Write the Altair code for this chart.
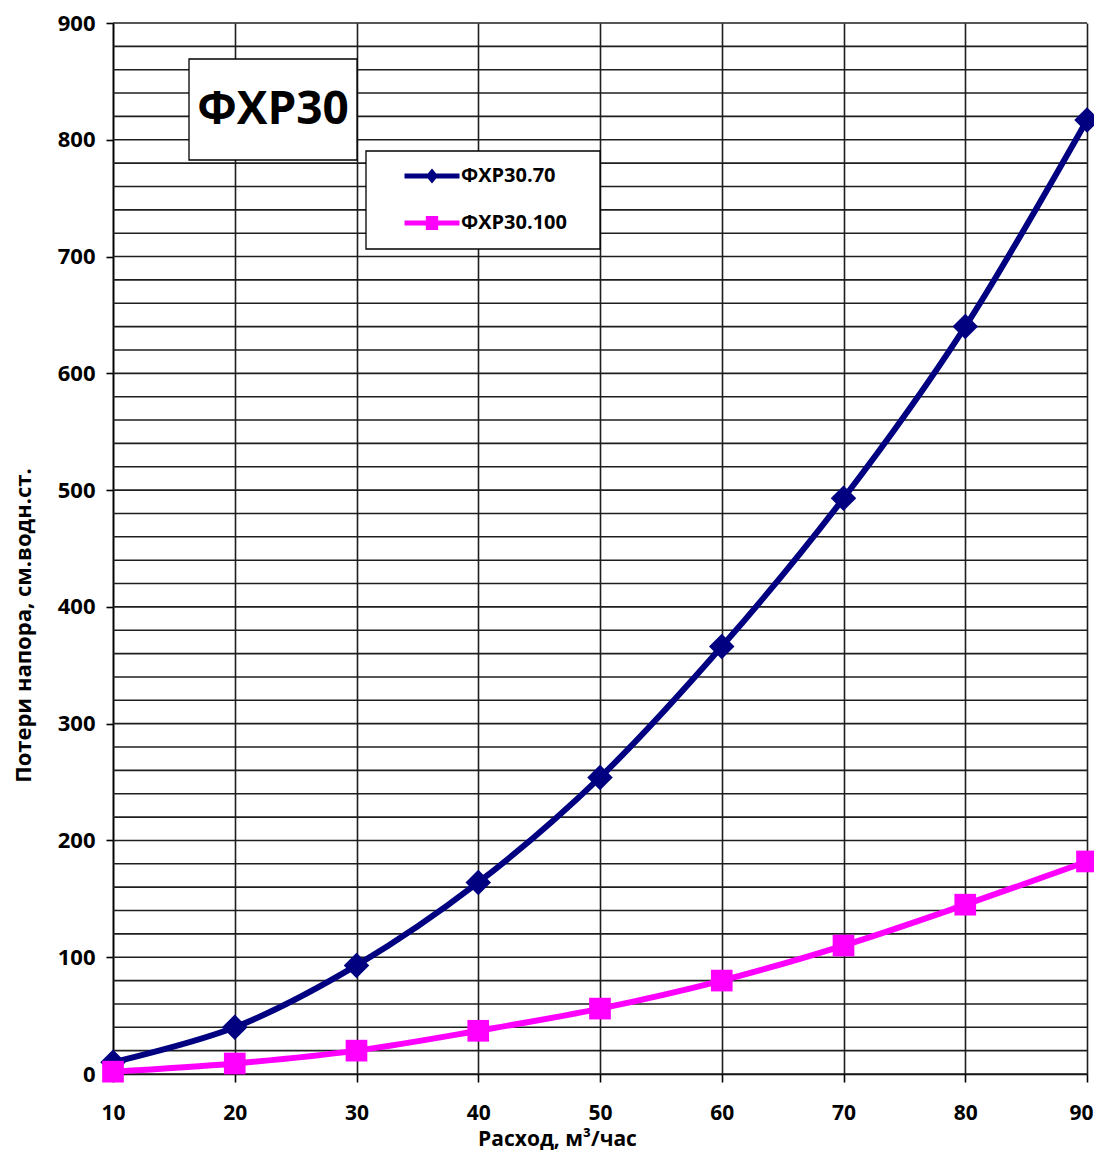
import altair as alt
import pandas as pd

# ---- data ----
flow = [10, 20, 30, 40, 50, 60, 70, 80, 90]
loss_70 = [10, 40, 93, 164, 254, 366, 493, 640, 817]
loss_100 = [2, 9, 20, 37, 56, 80, 110, 145, 182]
series = ["ФХР30.70", "ФХР30.100"]
colors = ["#000080", "#FF00FF"]
shapes = ["diamond", "square"]
marker_sizes = [650, 470]
y_ticks = list(range(0, 901, 100))
y_grid = list(range(0, 901, 20))
x_ticks = flow
chart_title = ["ФХР30"]

df = pd.DataFrame({
    "flow": flow * 2,
    "loss": loss_70 + loss_100,
    "series": [series[0]] * len(flow) + [series[1]] * len(flow),
})
grid_df = pd.DataFrame({"g": y_grid})

FONT = "Open Sans"

diamond_path = ("M-2,-0.18L-0.3,-0.18L0,-0.55L0.3,-0.18L2,-0.18L2,0.18L0.3,0.18"
                "L0,0.55L-0.3,0.18L-2,0.18Z")
square_path = ("M-2,-0.18L-0.45,-0.18L-0.45,-0.51L0.45,-0.51L0.45,-0.18L2,-0.18L2,0.18"
               "L0.45,0.18L0.45,0.51L-0.45,0.51L-0.45,0.18L-2,0.18Z")

y_scale = alt.Scale(domain=[0, 900], nice=False)
x_scale = alt.Scale(domain=[10, 90], nice=False, zero=False)

x_axis = alt.Axis(
    values=x_ticks, title="Расход, м³/час", grid=True,
    gridColor="#1e1e1e", gridWidth=1.6,
    domainColor="#000", domainWidth=1.6,
    tickColor="#000", tickWidth=1.6, tickSize=8,
    labelFont=FONT, labelFontSize=21, labelFontWeight="bold", labelColor="#000",
    labelPadding=20, labelFlush=False, labelOverlap=False,
    labelOffset={"condition": {"test": "datum.value === 90", "value": -6}, "value": 0},
    titleFont=FONT, titleFontSize=21, titleFontWeight="bold", titleColor="#000",
    titleX=444, titleY=65, titleBaseline="middle",
)
y_axis = alt.Axis(
    values=y_ticks, title="Потери напора, см.водн.ст.", grid=False,
    domainColor="#000", domainWidth=1.6,
    tickColor="#000", tickWidth=1.6, tickSize=7,
    labelFont=FONT, labelFontSize=22, labelFontWeight="bold", labelColor="#000",
    labelPadding=11, labelOverlap=False,
    titleFont=FONT, titleFontSize=22, titleFontWeight="bold", titleColor="#000",
    titleX=-90, titleY=602, titleBaseline="middle",
)

hgrid = alt.Chart(grid_df).mark_rule(color="#1e1e1e", strokeWidth=1.6).encode(
    y=alt.Y("g:Q", scale=y_scale, axis=y_axis)
)

line_layers = []
point_layers = []
for s, col, shp, sz in zip(series, colors, shapes, marker_sizes):
    base = alt.Chart(df).transform_filter(alt.datum.series == s)
    line_layers.append(
        base.mark_line(interpolate="catmull-rom", strokeWidth=6, color=col).encode(
            x=alt.X("flow:Q", scale=x_scale, axis=x_axis),
            y=alt.Y("loss:Q", scale=y_scale, axis=y_axis),
        )
    )
    point_layers.append(
        base.mark_point(filled=True, opacity=1, size=sz, shape=shp, color=col).encode(
            x=alt.X("flow:Q", scale=x_scale, axis=x_axis),
            y=alt.Y("loss:Q", scale=y_scale, axis=y_axis),
        )
    )

legend_spec = alt.Legend(
    orient="none", legendX=305, legendY=139, title=None, zindex=5,
    symbolSize=756, symbolStrokeWidth=0, symbolOpacity=1,
    labelFont=FONT, labelFontSize=20, labelFontWeight="bold", labelColor="#000",
    labelOffset=15, rowPadding=23, padding=0,
)
legend_layer = alt.Chart(df).mark_point(filled=True, opacity=0).encode(
    x=alt.X("flow:Q", scale=x_scale, axis=x_axis),
    y=alt.Y("loss:Q", scale=y_scale, axis=y_axis),
    color=alt.Color("series:N", scale=alt.Scale(domain=series, range=colors), legend=legend_spec),
    shape=alt.Shape("series:N", scale=alt.Scale(domain=series, range=[diamond_path, square_path]),
                    legend=legend_spec),
)

box_df = pd.DataFrame({"t": chart_title})
title_box = alt.Chart(box_df).mark_rect(fill="white", stroke="#000", strokeWidth=1.3).encode(
    x=alt.value(76), x2=alt.value(244), y=alt.value(36), y2=alt.value(137)
)
title_text = alt.Chart(box_df).mark_text(
    font=FONT, fontSize=46, fontWeight="bold", color="#000", align="center", baseline="middle"
).encode(x=alt.value(160), y=alt.value(87), text="t:N")
legend_box = alt.Chart(box_df).mark_rect(fill="white", stroke="#000", strokeWidth=1.3).encode(
    x=alt.value(253), x2=alt.value(487), y=alt.value(128), y2=alt.value(226)
)

chart = alt.layer(
    hgrid, title_box, title_text, legend_box, *line_layers, *point_layers, legend_layer
).properties(
    width=974, height=1051,
    autosize=alt.AutoSizeParams(type="none"),
    padding={"left": 105, "top": 15, "right": 7, "bottom": 76},
    background="white",
).configure_view(stroke=None)

chart.save("out.html", embed_options={"renderer": "svg", "actions": False})
